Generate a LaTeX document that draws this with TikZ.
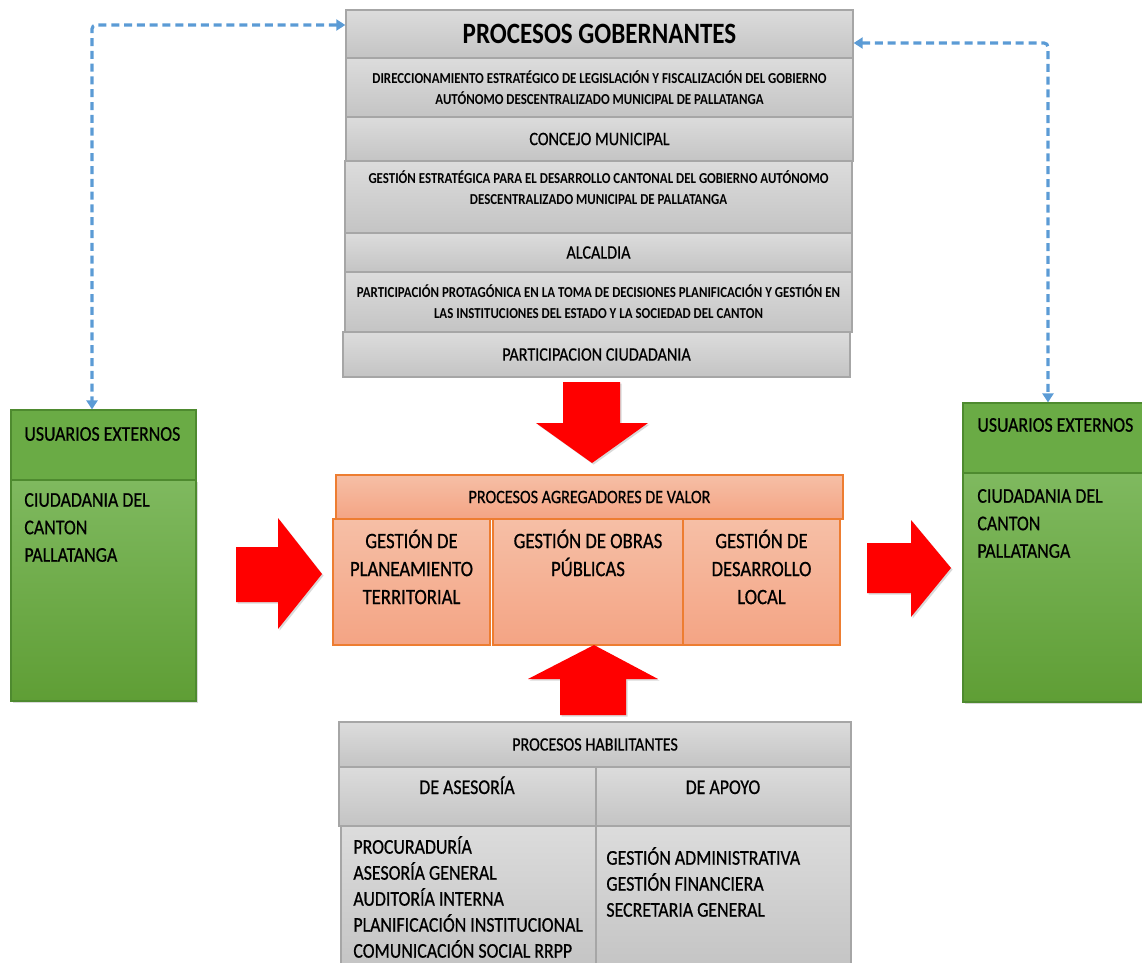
\documentclass[tikz,border=0pt]{standalone}
\usepackage{fontspec}
\setmainfont{Carlito}[FakeStretch=0.85,UprightFeatures={FakeBold=0.6}]
\usetikzlibrary{arrows.meta,shadows,positioning}
\definecolor{graytop}{HTML}{DCDCDC}
\definecolor{graybot}{HTML}{C4C4C4}
\definecolor{grayline}{HTML}{A6A6A6}
\definecolor{ortop}{HTML}{F6BFA6}
\definecolor{orbot}{HTML}{F4A484}
\definecolor{orline}{HTML}{ED7D31}
\definecolor{grnhead}{HTML}{6AAB45}
\definecolor{grnline}{HTML}{4E8A2F}
\definecolor{grntop}{HTML}{7FB95F}
\definecolor{grnbot}{HTML}{5F9E35}
\definecolor{linkblue}{HTML}{5B9BD5}

\begin{document}
\begin{tikzpicture}[
   x=0.5pt,y=-0.5pt,
   gbox/.style={draw=grayline,line width=0.7pt,top color=graytop,bottom color=graybot,inner sep=2pt,align=center},
   obox/.style={draw=orline,line width=0.8pt,top color=ortop,bottom color=orbot,inner sep=2pt,align=center},
   vhead/.style={draw=grnline,line width=0.6pt,fill=grnhead},
   vbody/.style={draw=grnline,line width=0.6pt,top color=grntop,bottom color=grnbot,
     drop shadow={shadow xshift=0.8pt,shadow yshift=-1.2pt,opacity=0.3}},
   txt/.style={inner sep=0pt},
   link/.style={draw=linkblue,line width=1.6pt,dash pattern=on 4pt off 2.4pt,rounded corners=2pt,
     {Triangle[length=4.5pt,width=5.5pt]}-{Triangle[length=4.5pt,width=5.5pt]}},
   flow/.style={fill=red,drop shadow={shadow xshift=0.8pt,shadow yshift=-0.8pt,opacity=0.3}},
   small/.style={font=\fontsize{7.6}{10.5}\selectfont\bfseries},
   big/.style={font=\fontsize{10.5}{13.75}\selectfont},
   every node/.style={font=\fontsize{9.5}{11.4}\selectfont}
 ]
  \useasboundingbox (0,0) rectangle (1142,963);
  \clip (0,0) rectangle (1142,963);

  % procesos gobernantes
  \node[gbox,minimum width=253.5pt,minimum height=24pt,font=\fontsize{14.75}{17}\selectfont\bfseries] (gob) at (599.5,34) {PROCESOS GOBERNANTES};
  \node[gbox,small,minimum width=253.5pt,minimum height=29.5pt] (dir) at (599.5,87.5) {DIRECCIONAMIENTO ESTRATÉGICO DE LEGISLACIÓN Y FISCALIZACIÓN DEL GOBIERNO\\AUTÓNOMO DESCENTRALIZADO MUNICIPAL DE PALLATANGA};
  \node[gbox,minimum width=253.5pt,minimum height=22pt] (con) at (599.5,139) {CONCEJO MUNICIPAL};
  \node[gbox,minimum width=253.5pt,minimum height=36pt] (ges) at (598.5,197) {};
  \node[txt,small,align=center] (gesT) at ([yshift=4.75pt]ges.center) {GESTIÓN ESTRATÉGICA PARA EL DESARROLLO CANTONAL DEL GOBIERNO AUTÓNOMO\\DESCENTRALIZADO MUNICIPAL DE PALLATANGA};
  \node[gbox,minimum width=253.5pt,minimum height=19.5pt] (alc) at (598.5,252.5) {ALCALDIA};
  \node[gbox,small,minimum width=253.5pt,minimum height=30pt] (par) at (598.5,302) {PARTICIPACIÓN PROTAGÓNICA EN LA TOMA DE DECISIONES PLANIFICACIÓN Y GESTIÓN EN\\LAS INSTITUCIONES DEL ESTADO Y LA SOCIEDAD DEL CANTON};
  \node[gbox,minimum width=253.5pt,minimum height=22.5pt] (ciu) at (596.5,354.5) {PARTICIPACION CIUDADANIA};

  % usuarios externos
  \node[vhead,minimum width=92.5pt,minimum height=35pt] (uLh) at (103.5,445) {};
  \node[vbody,minimum width=92.5pt,minimum height=110.5pt] (uLb) at (103.5,590.5) {};
  \node[txt,big,anchor=west] (uLhT) at (24,434) {USUARIOS EXTERNOS};
  \node[txt,big,anchor=west,align=left] (uLbT) at (24,527.5) {CIUDADANIA DEL\\CANTON\\PALLATANGA};
  \node[vhead,minimum width=93.5pt,minimum height=35pt] (uRh) at (1056.5,438) {};
  \node[vbody,minimum width=93.5pt,minimum height=114.5pt] (uRb) at (1056.5,587.5) {};
  \node[txt,big,anchor=west] (uRhT) at (977,425) {USUARIOS EXTERNOS};
  \node[txt,big,anchor=west,align=left] (uRbT) at (977,523.5) {CIUDADANIA DEL\\CANTON\\PALLATANGA};

  % procesos agregadores de valor
  \node[obox,minimum width=253.5pt,minimum height=22pt] (agr) at (589.5,497) {PROCESOS AGREGADORES DE VALOR};
  \node[obox,minimum width=78.5pt,minimum height=63pt] (pla) at (411.5,582) {};
  \node[obox,minimum width=95pt,minimum height=63pt] (obr) at (588,582) {};
  \node[obox,minimum width=78.5pt,minimum height=63pt] (des) at (761.5,582) {};
  \node[txt,align=center,font=\fontsize{11}{14}\selectfont] (plaT) at ([yshift=7.5pt]pla.center) {GESTIÓN DE\\PLANEAMIENTO\\TERRITORIAL};
  \node[txt,align=center,font=\fontsize{11}{14}\selectfont] (obrT) at ([yshift=14.5pt]obr.center) {GESTIÓN DE OBRAS\\PÚBLICAS};
  \node[txt,align=center,font=\fontsize{11}{14}\selectfont] (desT) at ([yshift=7.5pt]des.center) {GESTIÓN DE\\DESARROLLO\\LOCAL};

  % procesos habilitantes
  \node[gbox,minimum width=256pt,minimum height=22.5pt] (hab) at (595,744.5) {PROCESOS HABILITANTES};
  \node[gbox,minimum width=128.5pt,minimum height=29.5pt] (ase) at (467.5,796.5) {};
  \node[gbox,minimum width=127.5pt,minimum height=29.5pt] (apo) at (723.5,796.5) {};
  \node[txt,big,anchor=base] (aseT) at (467,794) {DE ASESORÍA};
  \node[txt,big,anchor=base] (apoT) at (723,794) {DE APOYO};
  \node[gbox,minimum width=127.5pt,minimum height=71pt] (ls1) at (468.5,897) {};
  \node[gbox,minimum width=127.5pt,minimum height=71pt] (ls2) at (723.5,897) {};
  \node[txt,anchor=west,align=left,font=\fontsize{10.5}{13}\selectfont] (ls1T) at (353,897) {PROCURADURÍA\\ASESORÍA GENERAL\\AUDITORÍA INTERNA\\PLANIFICACIÓN INSTITUCIONAL\\COMUNICACIÓN SOCIAL RRPP};
  \node[txt,anchor=west,align=left,font=\fontsize{10.5}{13}\selectfont] (ls2T) at (606,882) {GESTIÓN ADMINISTRATIVA\\GESTIÓN FINANCIERA\\SECRETARIA GENERAL};

  % dashed links
  \coordinate (lc) at (92,25);
  \coordinate (rc) at (1048,43);
  \draw[link] (lc -| gob.west) -- (lc) -- (lc |- uLh.north);
  \draw[link] (rc -| gob.east) -- (rc) -- (rc |- uRh.north);

  % red block arrows
  \fill[flow] (563,382) -- (620,382) -- (620,423) -- (648,423) -- (592,463) -- (536,423) -- (563,423) -- cycle;
  \fill[flow] (594,645) -- (658,679) -- (626,679) -- (626,715) -- (560,715) -- (560,679) -- (528,679) -- cycle;
  \fill[flow] (236,547) -- (278,547) -- (278,518) -- (322,574) -- (278,629) -- (278,602) -- (236,602) -- cycle;
  \fill[flow] (867,543) -- (911,543) -- (911,520) -- (951,568) -- (911,617) -- (911,593) -- (867,593) -- cycle;
 \end{tikzpicture}
\end{document}
